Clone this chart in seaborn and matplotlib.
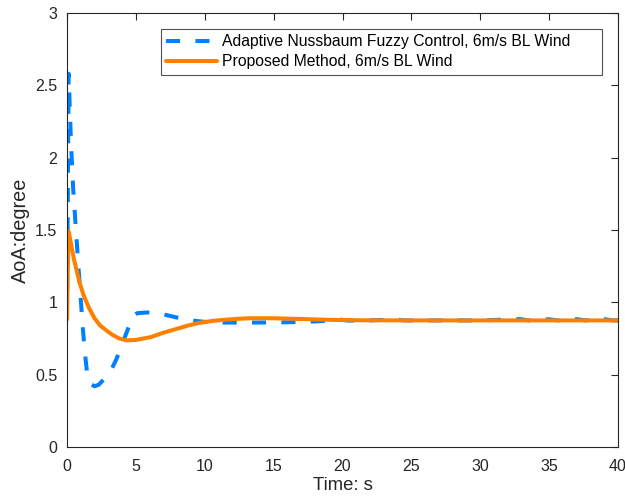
import numpy as np
import pandas as pd
import matplotlib
matplotlib.use("Agg")
import matplotlib.pyplot as plt
import seaborn as sns

# ---- data ----
t_blue = [0.0, 0.12, 0.2, 0.3, 0.45, 0.65, 0.85, 1.0, 1.15, 1.3, 1.45, 1.6, 1.8, 2.0,
          2.3, 2.7, 3.2, 3.6, 3.8, 4.2, 4.6, 4.85, 5.1, 5.8, 6.6, 7.3, 8.2, 9.0, 10.0,
          10.9, 13.3, 16, 18, 19, 19.7, 20.4, 22, 23.8, 24.5, 27, 30, 32.9, 33.5, 35,
          35.6, 37, 37.6, 39, 39.6, 40]
v_blue = [0.88, 2.58, 2.35, 2.08, 1.78, 1.50, 1.22, 1.02, 0.82, 0.65, 0.52, 0.46, 0.43, 0.42,
          0.43, 0.47, 0.53, 0.61, 0.66, 0.76, 0.86, 0.91, 0.925, 0.93, 0.925, 0.91, 0.89,
          0.875, 0.865, 0.86, 0.86, 0.862, 0.868, 0.873, 0.882, 0.874, 0.875, 0.882, 0.875,
          0.875, 0.875, 0.884, 0.875, 0.883, 0.875, 0.884, 0.875, 0.884, 0.875, 0.875]

t_orange = [0.0, 0.05, 0.12, 0.3, 0.5, 0.65, 0.9, 1.2, 1.6, 2.0, 2.4, 2.8, 3.3, 3.8, 4.3,
            5.0, 6.1, 7.0, 7.9, 8.8, 9.7, 10.6, 11.5, 12.4, 13.3, 15, 17, 19, 21, 25,
            30, 35, 40]
v_orange = [0.88, 1.2, 1.49, 1.40, 1.30, 1.24, 1.14, 1.05, 0.96, 0.89, 0.84, 0.81, 0.775,
            0.75, 0.737, 0.74, 0.76, 0.79, 0.815, 0.84, 0.86, 0.872, 0.88, 0.886, 0.89,
            0.89, 0.885, 0.879, 0.876, 0.875, 0.875, 0.875, 0.875]

label_blue = "Adaptive Nussbaum Fuzzy Control, 6m/s BL Wind"
label_orange = "Proposed Method, 6m/s BL Wind"
x_ticks = [0, 5, 10, 15, 20, 25, 30, 35, 40]
y_ticks = [0, 0.5, 1, 1.5, 2, 2.5, 3]
y_tick_labels = ["0", "0.5", "1", "1.5", "2", "2.5", "3"]

df_blue = pd.DataFrame({"t": t_blue, "v": v_blue})
df_orange = pd.DataFrame({"t": t_orange, "v": v_orange})

sns.set_theme(style="white")
plt.rcParams["font.family"] = ["Liberation Sans", "DejaVu Sans"]

fig = plt.figure(figsize=(6.25, 5.01), dpi=100)
ax = fig.add_axes([67/625, 54/501, (618-67)/625, (447-13)/501])

dark = "#262626"
sns.lineplot(data=df_blue, x="t", y="v", ax=ax, color="#0080FF", linewidth=2.9,
             label=label_blue + " " * 6, estimator=None, sort=False)
ax.lines[-1].set_dashes((3.5, 3.8))
ax.lines[-1].set_dash_capstyle("butt")
sns.lineplot(data=df_orange, x="t", y="v", ax=ax, color="#FF8000", linewidth=2.9,
             label=label_orange, estimator=None, sort=False)

ax.set_xlim(0, 40)
ax.set_ylim(0, 3)
ax.set_xticks(x_ticks)
ax.set_xticklabels([str(x) for x in x_ticks])
ax.set_yticks(y_ticks)
ax.set_yticklabels(y_tick_labels)
ax.tick_params(direction="in", length=5, width=0.8, colors=dark, labelsize=11.5,
               top=True, right=True, labelcolor=dark)
ax.tick_params(axis="x", pad=8.5)
ax.tick_params(axis="y", pad=7)
for s in ax.spines.values():
    s.set_color(dark)
    s.set_linewidth(0.8)
    s.set_visible(True)
ax.set_xlabel("Time: s", fontsize=13.3, color=dark, labelpad=2)
ax.set_ylabel("AoA:degree", fontsize=14.3, color=dark, labelpad=4)

leg = ax.legend(loc="upper right", bbox_to_anchor=(602/625, 1 - 29/501),
                bbox_transform=fig.transFigure, fontsize=11.3, frameon=True,
                fancybox=False, edgecolor=dark, handlelength=3.2, handletextpad=0.33,
                borderpad=0.35, labelspacing=0.3, borderaxespad=0)
leg.get_frame().set_linewidth(0.8)
for txt in leg.get_texts():
    txt.set_color("black")

fig.savefig("out.png", dpi=100)
